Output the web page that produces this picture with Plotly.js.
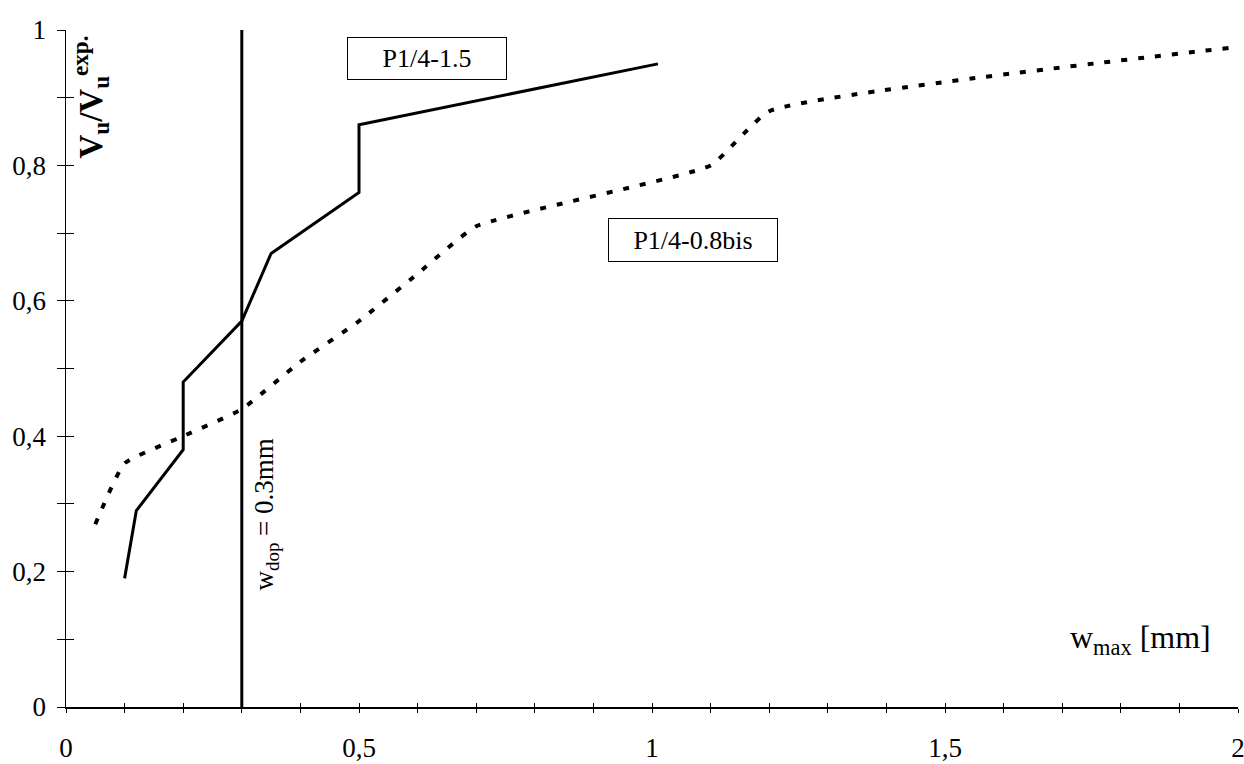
<!DOCTYPE html>
<html>
<head>
<meta charset="utf-8">
<script src="https://cdn.plot.ly/plotly-3.0.1.min.js"></script>
<style>html,body{margin:0;padding:0;background:#fff;}#chart{width:1244px;height:764px;}</style>
</head>
<body>
<div id="chart"></div>
<script>
// Series P1/4-1.5 (solid)
const solidName = "P1/4-1.5";
const solidX = [0.10, 0.12, 0.20, 0.20, 0.30, 0.35, 0.50, 0.50, 1.01];
const solidY = [0.19, 0.29, 0.38, 0.48, 0.57, 0.67, 0.76, 0.86, 0.95];
// Series P1/4-0.8bis (dashed)
const dashName = "P1/4-0.8bis";
const dashX = [0.05, 0.10, 0.20, 0.30, 0.40, 0.50, 0.60, 0.70, 1.10, 1.20, 2.00];
const dashY = [0.27, 0.36, 0.40, 0.44, 0.51, 0.57, 0.64, 0.71, 0.80, 0.88, 0.975];
// Allowed crack width line
const limitX = [0.3, 0.3];
const limitY = [0, 1];
const limitLabel = "w<sub>dop</sub> = 0.3mm";
// Axis tick labels
const xTickVals = [0, 0.5, 1, 1.5, 2];
const xTickText = ["0", "0,5", "1", "1,5", "2"];
const yTickVals = [0, 0.2, 0.4, 0.6, 0.8, 1];
const yTickText = ["0", "0,2", "0,4", "0,6", "0,8", "1"];

const F = "'Liberation Serif', 'Times New Roman', serif";

const traces = [
  {x: solidX, y: solidY, mode: "lines", name: solidName,
   line: {color: "#000", width: 3}, xaxis: "x", yaxis: "y"},
  {x: dashX, y: dashY, mode: "lines", name: dashName,
   line: {color: "#000", width: 4, dash: "6px,11px", shape: "spline", smoothing: 0.4}, xaxis: "x", yaxis: "y"},
  {x: limitX, y: limitY, mode: "lines", name: "wdop",
   line: {color: "#000", width: 3}, xaxis: "x", yaxis: "y"},
  {x: [0], y: [0], mode: "lines", xaxis: "x2", yaxis: "y2", showlegend: false, line: {width: 0}}
];

const layout = {
  width: 1244, height: 764,
  margin: {l: 66, r: 6, t: 30, b: 57},
  paper_bgcolor: "#fff", plot_bgcolor: "#fff",
  showlegend: false,
  font: {family: F, size: 26, color: "#000"},
  xaxis: {
    range: [0, 2], showgrid: false, zeroline: false, showline: true, linecolor: "#000", linewidth: 1.5,
    tickmode: "array", tickvals: xTickVals, ticktext: xTickText,
    ticks: "outside", ticklen: 4, tickwidth: 1, tickcolor: "#000",
    minor: {dtick: 0.1, ticks: "outside", ticklen: 4, tickwidth: 1, tickcolor: "#000"},
    ticklabelstandoff: 12, ticklabeloverflow: "allow",
    tickfont: {family: F, size: 27, color: "#000"}
  },
  yaxis: {
    range: [0, 1], showgrid: false, zeroline: false, showline: true, linecolor: "#000", linewidth: 1.5,
    tickmode: "array", tickvals: yTickVals, ticktext: yTickText,
    ticks: "outside", ticklen: 8, tickwidth: 1, tickcolor: "#000",
    minor: {dtick: 0.1, ticks: "outside", ticklen: 8, tickwidth: 1, tickcolor: "#000"},
    ticklabelstandoff: 5, ticklabeloverflow: "allow",
    tickfont: {family: F, size: 27, color: "#000"}
  },
  xaxis2: {
    overlaying: "x", anchor: "y2", range: [0, 2], showgrid: false, zeroline: false, showline: false,
    dtick: 0.1, tick0: 0, ticks: "inside", ticklen: 4, tickwidth: 1, tickcolor: "#000", showticklabels: false
  },
  yaxis2: {
    overlaying: "y", anchor: "x2", range: [0, 1], showgrid: false, zeroline: false, showline: false,
    dtick: 0.1, tick0: 0, ticks: "inside", ticklen: 8, tickwidth: 1, tickcolor: "#000", showticklabels: false
  },
  annotations: [
    {xref: "paper", yref: "paper", x: 0.021, y: 0.995, xanchor: "center", yanchor: "top",
     text: "<b>V<sub>u</sub>/V<sub>u</sub><sup>exp.</sup></b>", textangle: -90, showarrow: false,
     font: {family: F, size: 33, color: "#000"}},
    {xref: "x", yref: "y", x: 0.342, y: 0.285, text: limitLabel, textangle: -90, showarrow: false,
     font: {family: F, size: 27, color: "#000"}},
    {xref: "x", yref: "y", x: 0.616, y: 0.958, text: solidName, showarrow: false,
     width: 156, height: 39, bordercolor: "#000", borderwidth: 1, bgcolor: "#fff",
     font: {family: F, size: 26, color: "#000"}},
    {xref: "x", yref: "y", x: 1.07, y: 0.69, text: dashName, showarrow: false,
     width: 166, height: 40, bordercolor: "#000", borderwidth: 1, bgcolor: "#fff",
     font: {family: F, size: 26, color: "#000"}},
    {xref: "x", yref: "y", x: 1.834, y: 0.10, text: "w<sub>max</sub> [mm]", showarrow: false,
     font: {family: F, size: 32, color: "#000"}}
  ]
};

Plotly.newPlot("chart", traces, layout, {displayModeBar: false, staticPlot: true});
</script>
</body>
</html>
